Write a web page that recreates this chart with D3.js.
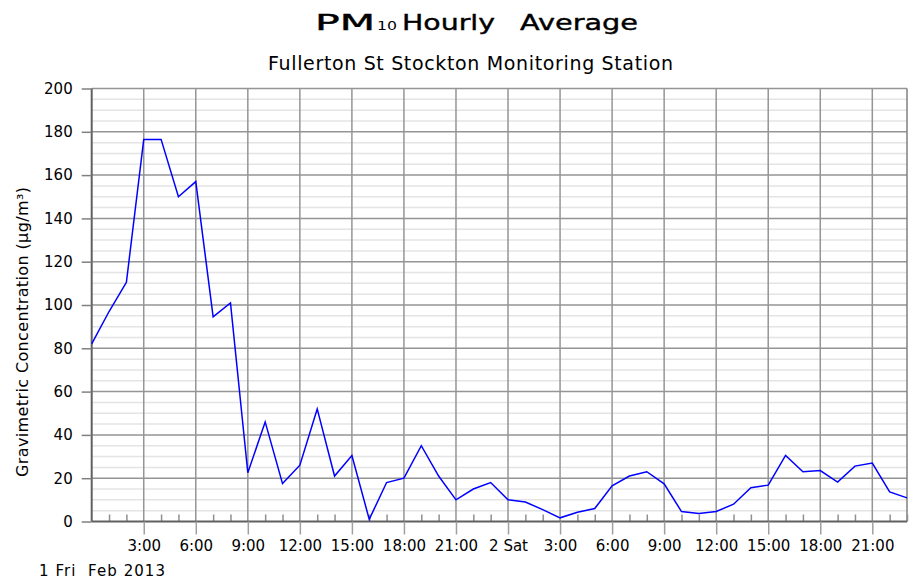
<!DOCTYPE html>
<html>
<head>
<meta charset="utf-8">
<script src="https://cdn.jsdelivr.net/npm/d3@7"></script>
<style>
  body { margin: 0; background: #fff; }
  text { font-family: "DejaVu Sans", sans-serif; fill: #000; white-space: pre; }
</style>
</head>
<body>
<div id="chart"></div>
<script>
// hourly PM10 values, 1 Feb 2013 00:00 .. 2 Feb 2013 23:00
const hours = d3.range(0, 48);
const pm10 = [82, 97, 110.5, 176.5, 176.5, 150, 157, 94.5, 101, 22.5, 46, 17.5,
  26, 52, 21, 30.5, 1, 18, 20, 35, 21, 10, 15, 18,
  10, 9, 5.5, 1.7, 4.3, 6, 16.5, 21, 23, 17.4, 4.6, 3.7,
  4.6, 8, 15.6, 16.8, 30.5, 23, 23.5, 18.2, 25.6, 27, 13.7, 10.9];

const tickHours = [3, 6, 9, 12, 15, 18, 21, 24, 27, 30, 33, 36, 39, 42, 45];
const tickLabels = ["3:00", "6:00", "9:00", "12:00", "15:00", "18:00", "21:00", "2 Sat",
  "3:00", "6:00", "9:00", "12:00", "15:00", "18:00", "21:00"];
const yTicks = d3.range(0, 201, 20);
const yMinor = d3.range(5, 200, 5).filter((d) => d % 20 !== 0);

const width = 910;
const height = 580;
const plotLeft = 91.7, plotRight = 907, plotTop = 88.5, plotBottom = 521.5;

const svg = d3.select("#chart")
  .append("svg")
  .attr("width", width)
  .attr("height", height);

const x = d3.scaleLinear().domain([0, 47]).range([plotLeft, plotRight]);
const y = d3.scaleLinear().domain([0, 200]).range([plotBottom, plotTop]);

// minor horizontal grid
svg.append("g")
  .selectAll("line")
  .data(yMinor)
  .join("line")
  .attr("x1", plotLeft).attr("x2", plotRight)
  .attr("y1", (d) => y(d)).attr("y2", (d) => y(d))
  .attr("stroke", "#e4e4e4")
  .attr("stroke-width", 1.5);

// major grid
svg.append("g")
  .selectAll("line")
  .data(yTicks.slice(1))
  .join("line")
  .attr("x1", plotLeft).attr("x2", plotRight)
  .attr("y1", (d) => y(d)).attr("y2", (d) => y(d))
  .attr("stroke", "#959595")
  .attr("stroke-width", 1.5);

svg.append("g")
  .selectAll("line")
  .data(tickHours)
  .join("line")
  .attr("x1", (d) => x(d)).attr("x2", (d) => x(d))
  .attr("y1", plotTop).attr("y2", plotBottom)
  .attr("stroke", "#959595")
  .attr("stroke-width", 1.5);

// right frame
svg.append("line")
  .attr("x1", plotRight).attr("x2", plotRight)
  .attr("y1", plotTop).attr("y2", plotBottom)
  .attr("stroke", "#808080")
  .attr("stroke-width", 1.5);

// minor hour ticks inside the plot
svg.append("g")
  .attr("transform", `translate(0,${plotBottom})`)
  .call(d3.axisBottom(x).tickValues(hours.filter((h) => h % 3 !== 0)).tickSize(-7).tickFormat(""))
  .call((g) => g.select(".domain").remove())
  .call((g) => g.selectAll("line").attr("stroke", "#909090").attr("stroke-width", 1.5));

// x axis
const xAxis = svg.append("g")
  .attr("transform", `translate(0,${plotBottom})`)
  .call(d3.axisBottom(x).tickValues(tickHours).tickSize(13).tickPadding(6)
    .tickFormat((d, i) => tickLabels[i]));
xAxis.select(".domain").attr("stroke", "#606060").attr("stroke-width", 2)
  .attr("d", `M${plotLeft},0H${plotRight}`);
xAxis.selectAll("line").attr("stroke", "#a0a0a0").attr("stroke-width", 1.5);
xAxis.selectAll("text").attr("font-size", 15).attr("font-family", "DejaVu Sans").attr("fill", "#000");

// y axis
const yAxis = svg.append("g")
  .attr("transform", `translate(${plotLeft},0)`)
  .call(d3.axisLeft(y).tickValues(yTicks).tickSize(10).tickPadding(9));
yAxis.select(".domain").attr("stroke", "#606060").attr("stroke-width", 2)
  .attr("d", `M0,${plotTop}V${plotBottom}`);
yAxis.selectAll("line").attr("stroke", "#808080").attr("stroke-width", 1.5);
yAxis.selectAll("text").attr("font-size", 15).attr("font-family", "DejaVu Sans").attr("fill", "#000");

// data line
const line = d3.line()
  .x((d, i) => x(hours[i]))
  .y((d) => y(d));

svg.append("path")
  .datum(pm10)
  .attr("d", line)
  .attr("fill", "none")
  .attr("stroke", "#0000ff")
  .attr("stroke-width", 1.5);

// title: wide bitmap-like lettering, each word stretched to its width
const titleParts = [
  { text: "PM", x: 315, len: 60, size: 22 },
  { text: "10", x: 377, len: 20, size: 11.5 },
  { text: "Hourly", x: 402, len: 93, size: 22 },
  { text: "Average", x: 520, len: 118, size: 22 },
];
svg.append("g")
  .selectAll("text")
  .data(titleParts)
  .join("text")
  .attr("x", (d) => d.x)
  .attr("y", 30)
  .attr("font-size", (d) => d.size)
  .attr("textLength", (d) => d.len)
  .attr("lengthAdjust", "spacingAndGlyphs")
  .attr("stroke", "#000")
  .attr("stroke-width", (d) => (d.size > 20 ? 0.4 : 0))
  .text((d) => d.text);

svg.append("text")
  .attr("x", 268)
  .attr("y", 70)
  .attr("font-size", 19)
  .attr("textLength", 405)
  .attr("lengthAdjust", "spacing")
  .text("Fullerton St Stockton Monitoring Station");

svg.append("text")
  .attr("transform", "translate(28,332) rotate(-90)")
  .attr("text-anchor", "middle")
  .attr("font-size", 16)
  .attr("textLength", 290)
  .attr("lengthAdjust", "spacing")
  .text("Gravimetric Concentration (µg/m³)");

svg.append("text")
  .attr("x", 39)
  .attr("y", 576)
  .attr("font-size", 15)
  .attr("textLength", 126)
  .attr("lengthAdjust", "spacing")
  .text("1 Fri  Feb 2013");
</script>
</body>
</html>
